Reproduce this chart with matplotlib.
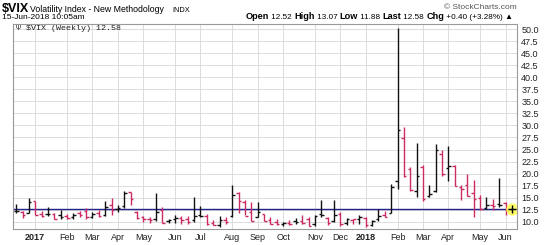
import numpy as np
import pandas as pd
import matplotlib
matplotlib.use("Agg")
import matplotlib.pyplot as plt
from matplotlib.transforms import IdentityTransform

plt.rcParams["font.family"] = ["Liberation Sans", "DejaVu Sans"]

# Weekly bars, Monday of each week
weeks = pd.date_range("2016-12-12", periods=79, freq="W-MON")

opens = [12.3, 12.1, 11.9, 14.3, 11.7, 11.6, 11.6, 11.4, 11.2, 10.9,
         11.8, 12.2, 11.0, 11.8, 11.4, 13.4, 12.6, 13.2, 16.1, 12.1,
         10.9, 10.6, 10.5, 12.5, 10.1, 10.5, 10.8, 10.5, 10.3, 11.4,
         11.2, 9.8, 9.4, 10.3, 11.2, 15.9, 14.0, 12.1, 11.0, 11.6,
         10.4, 10.0, 9.6, 9.8, 10.1, 10.2, 10.6, 9.5, 11.6, 10.8,
         10.2, 11.6, 9.7, 10.3, 10.6, 10.8, 9.4, 10.6, 11.3, 11.9,
         18.4, 27.4, 21.0, 16.4, 21.3, 15.4, 16.3, 24.0, 21.2, 21.5,
         17.2, 17.6, 15.9, 15.0, 12.9, 13.5, 13.6, 13.8, 12.52]
highs = [13.7, 12.2, 14.9, 14.4, 12.2, 13.0, 11.9, 12.4, 11.6, 11.8,
         12.2, 12.9, 12.1, 12.4, 14.3, 15.0, 13.5, 16.3, 16.2, 12.2,
         11.2, 10.9, 16.0, 13.0, 10.6, 11.5, 11.1, 11.1, 15.2, 13.3,
         11.6, 10.3, 11.2, 10.9, 17.6, 16.2, 14.6, 14.2, 14.2, 11.7,
         11.0, 10.6, 10.0, 10.4, 10.7, 11.5, 10.9, 11.4, 14.5, 10.9,
         14.6, 12.0, 10.8, 10.6, 11.3, 10.9, 10.3, 12.6, 12.2, 17.8,
         50.3, 29.7, 21.3, 26.3, 21.8, 17.6, 26.1, 25.0, 25.8, 21.8,
         17.6, 20.0, 18.7, 15.5, 15.2, 14.7, 19.0, 14.0, 13.07]
lows = [11.9, 10.8, 11.8, 11.3, 10.9, 11.2, 10.6, 10.6, 10.5, 10.6,
        11.0, 10.6, 10.8, 10.9, 11.1, 11.5, 12.1, 12.9, 13.5, 10.6,
        9.9, 9.8, 10.1, 9.7, 9.7, 9.8, 9.6, 9.6, 10.0, 10.9,
        9.4, 9.3, 8.9, 9.6, 11.0, 11.8, 11.3, 10.1, 11.0, 10.1,
        9.5, 9.4, 9.2, 9.3, 9.5, 9.6, 9.1, 9.1, 10.9, 9.3,
        9.9, 9.2, 9.3, 9.5, 9.6, 9.0, 9.1, 10.2, 10.9, 11.8,
        16.8, 19.2, 16.4, 15.2, 14.3, 15.2, 16.2, 19.6, 18.5, 17.4,
        14.5, 15.4, 10.9, 12.4, 12.6, 12.4, 13.1, 11.4, 11.88]
closes = [12.20, 11.44, 14.04, 11.32, 11.23, 11.54, 10.58, 10.97, 10.85, 11.49,
          11.47, 10.96, 11.66, 11.28, 12.96, 12.37, 12.87, 15.96, 14.63, 10.82,
          10.57, 10.40, 12.04, 9.81, 10.38, 10.70, 10.38, 10.02, 11.18, 11.19,
          9.51, 9.36, 10.29, 10.03, 15.51, 14.26, 11.28, 10.13, 12.12, 10.17,
          9.59, 9.51, 9.65, 9.61, 9.97, 9.80, 9.14, 11.29, 11.43, 9.67,
          11.43, 9.58, 10.49, 10.47, 11.04, 9.22, 10.16, 11.27, 11.08, 17.31,
          29.06, 19.46, 16.49, 19.59, 14.64, 15.80, 24.87, 19.97, 21.49, 17.41,
          16.88, 15.41, 14.77, 12.65, 13.42, 13.22, 13.46, 12.18, 12.58]
prev_close = 11.75
last_price = 12.58

yticks = np.arange(10, 50.1, 2.5)
header_parts = [("Open", True), (" 12.52 ", False), ("High", True), (" 13.07 ", False),
                ("Low", True), (" 11.88 ", False), ("Last", True), (" 12.58 ", False),
                ("Chg", True), (" +0.40 (+3.28%) \u25b2", False)]

RED = "#cc2a64"
BLACK = "#111111"

fig = plt.figure(figsize=(5.5, 2.45), dpi=100)
ax = fig.add_axes([13 / 550, 1 - 229 / 245, (517 - 13) / 550, (229 - 24) / 245])

# OHLC bars: colour by close vs previous close
x = np.arange(len(weeks))
prev = [prev_close] + closes[:-1]
colors = [BLACK if c >= p else RED for c, p in zip(closes, prev)]
ax.vlines(x, lows, highs, colors=colors, lw=1)
ax.hlines(opens, x - 0.4, x, colors=colors, lw=1)
ax.hlines(closes, x, x + 0.4, colors=colors, lw=1)

# last price line and marker
ax.axhline(last_price, color="#23238e", lw=1, zorder=1)
ax.plot(x[-1], closes[-1], "o", ms=9, color="#ffff55", alpha=0.85, mec="none", zorder=2)
ax.plot(x[-1], closes[-1], "+", ms=6, color="black", mew=1, zorder=3)

# month ticks at first week of each month
tick_pos, tick_lab = [], []
for i in range(1, len(weeks)):
    if weeks[i].month != weeks[i - 1].month:
        tick_pos.append(i)
        tick_lab.append(str(weeks[i].year) if weeks[i].month == 1 else weeks[i].strftime("%b"))
ax.set_xticks(tick_pos)
ax.set_xticklabels(tick_lab)
for lab in ax.get_xticklabels():
    if lab.get_text().isdigit():
        lab.set_fontweight("bold")

ax.set_xlim(-0.5, 78.8)
ax.set_ylim(8.49, 51.07)
ax.set_yticks(yticks)
ax.set_yticklabels([f"{v:.1f}" for v in yticks])
ax.yaxis.tick_right()
ax.tick_params(axis="both", length=0, labelsize=6.5, colors="#222222", pad=3)
ax.grid(color="#dcdcdc", lw=0.7)
ax.set_axisbelow(True)
for s in ax.spines.values():
    s.set_color("#9a9a9a")
    s.set_linewidth(0.8)

ax.text(0.006, 0.995, "\u03a8 $VIX (Weekly) 12.58", transform=ax.transAxes,
        family=["Liberation Mono", "DejaVu Sans Mono"], fontsize=6, va="top", ha="left",
        color="#222222")

# header
fig.text(2 / 550, 1 - 12 / 245, "$VIX", fontsize=9, fontweight="bold")
fig.text(30 / 550, 1 - 12 / 245, "Volatility Index - New Methodology", fontsize=6.3)
fig.text(172 / 550, 1 - 12 / 245, "INDX", fontsize=5.3)
fig.text(2 / 550, 1 - 19 / 245, "15-Jun-2018 10:05am", fontsize=6)
fig.text(517 / 550, 1 - 9 / 245, "\u00a9 StockCharts.com", fontsize=6, ha="right", color="#555555")

# quote line: bold labels + plain values, laid out left to right
fig.canvas.draw()
r = fig.canvas.get_renderer()
xpos, ybase = 246, 245 - 19
for txt, bold in header_parts:
    t = fig.text(xpos, ybase, txt, transform=IdentityTransform(), va="baseline",
                 fontsize=6.6 if bold else 5.9, fontweight="bold" if bold else "normal")
    xpos = t.get_window_extent(r).x1

fig.savefig("out.png", dpi=100)
